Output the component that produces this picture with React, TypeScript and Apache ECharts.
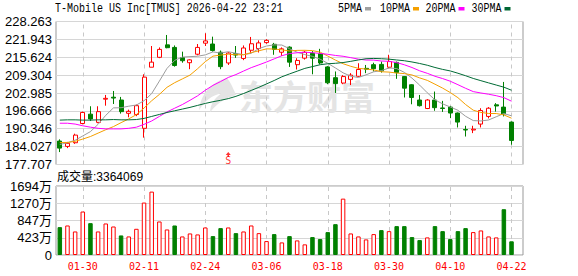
import React, { useEffect, useRef } from "react";
import * as echarts from "echarts";

const dates = ["01-27","01-28","01-29","01-30","02-02","02-03","02-04","02-05","02-06","02-09","02-10","02-11","02-12","02-13","02-17","02-18","02-19","02-20","02-23","02-24","02-25","02-26","02-27","03-02","03-03","03-04","03-05","03-06","03-09","03-10","03-11","03-12","03-13","03-16","03-17","03-18","03-19","03-20","03-23","03-24","03-25","03-26","03-27","03-30","03-31","04-01","04-02","04-06","04-07","04-08","04-09","04-10","04-13","04-14","04-15","04-16","04-17","04-20","04-21","04-22"];
const labelDates = ["01-30","02-11","02-24","03-06","03-18","03-30","04-10","04-22"];

const opens = [186.0,184.1,185.4,192.2,195.5,192.6,200.8,201.5,200.5,195.8,195.4,190.5,212.1,215.6,220.0,219.1,215.5,213.7,216.7,220.6,220.3,217.4,213.6,216.9,215.2,218.1,218.7,220.8,220.2,217.4,219.2,213.0,215.3,217.0,216.9,212.2,208.4,206.5,207.8,208.9,211.7,213.0,213.1,212.1,213.8,208.8,205.9,200.5,197.5,200.5,197.7,198.0,195.9,190.1,189.9,192.0,194.7,198.8,198.0,192.7];
const closes = [183.5,185.2,188.1,196.1,193.8,196.4,201.1,201.2,196.4,196.5,198.5,208.6,213.9,218.4,219.0,212.7,214.4,214.7,219.1,221.4,218.0,212.3,217.1,216.4,218.9,220.4,220.7,221.6,218.4,218.6,213.9,214.5,217.4,215.3,213.6,206.6,206.3,208.8,209.3,211.3,211.4,211.6,210.8,214.1,210.2,204.7,201.4,198.5,200.5,197.8,197.5,195.9,192.7,189.9,190.2,196.8,197.6,198.4,195.6,186.2];
const highs = [186.6,185.7,188.6,196.4,198.3,198.3,202.3,203.7,201.6,197.1,198.9,209.6,219.6,219.1,223.5,219.8,217.6,214.9,220.3,224.1,222.9,218.0,217.4,219.6,219.8,222.8,221.6,222.0,220.7,219.1,219.5,215.3,217.9,217.8,218.6,212.5,210.6,209.3,210.0,213.5,212.9,213.7,214.1,216.5,214.1,209.0,206.1,202.3,200.8,203.5,200.2,198.4,196.1,191.4,191.4,197.6,198.0,199.4,206.9,192.9];
const lows = [182.1,183.5,185.0,191.9,193.1,192.3,198.5,199.1,195.7,194.4,194.8,187.2,212.1,215.3,218.8,212.3,213.7,211.4,216.3,219.6,217.6,211.4,212.9,215.4,214.6,216.9,217.3,220.4,216.5,216.1,212.2,211.3,214.8,209.6,213.1,206.1,203.0,206.1,205.8,208.7,210.0,210.6,210.2,211.7,208.0,201.4,199.0,198.2,197.3,196.7,196.3,194.1,190.8,187.6,188.8,190.8,194.0,196.4,194.7,184.7];
// volume in 万 shares
const volumes = [684,725,578,1067,782,578,774,700,480,456,643,1287,1556,823,627,725,456,529,505,676,464,660,676,537,578,725,537,342,513,309,464,358,261,440,391,562,757,1384,529,456,383,513,611,586,709,709,440,366,432,709,586,391,586,660,562,603,456,432,1124,336];

const ma5 = [184.8,185.4,186.3,187.8,189.34,191.92,195.10,197.72,197.78,198.32,198.74,200.24,202.78,207.18,211.68,214.52,215.68,215.84,215.98,216.46,217.52,217.10,217.58,217.04,216.54,217.02,218.70,219.60,220.00,219.94,218.64,217.40,216.56,215.94,214.94,213.48,211.84,210.12,208.92,208.46,209.42,210.48,210.88,211.84,211.62,210.28,208.24,205.78,203.06,200.58,199.14,198.04,196.88,194.76,193.24,193.10,193.44,194.58,195.72,194.92];
const ma10 = [185.5,185.5,185.9,186.7,187.6,188.8,190.0,191.1,192.5,193.83,195.33,197.67,200.25,202.48,205.00,206.63,207.96,209.31,211.58,214.07,216.02,216.39,216.71,216.51,216.50,217.27,217.90,218.59,218.52,218.24,217.83,218.05,218.08,217.97,217.44,216.06,214.62,213.34,212.43,211.70,211.45,211.16,210.50,210.38,210.04,209.85,209.36,208.33,207.45,206.10,204.71,203.14,201.33,198.91,196.91,196.12,195.74,195.73,195.24,194.08];
const ma20 = [192.3,192.3,192.0,191.4,190.9,190.5,190.3,190.3,190.3,190.5,190.9,191.9,193.1,194.7,196.3,197.6,198.9,200.4,202.0,203.95,205.68,207.03,208.48,209.50,210.75,211.95,212.93,213.95,215.05,216.16,216.93,217.22,217.40,217.24,216.97,216.67,216.26,215.97,215.48,214.97,214.64,214.61,214.29,214.18,213.74,212.96,211.99,210.84,209.94,208.90,208.08,207.15,205.92,204.65,203.48,202.99,202.55,202.03,201.35,200.09];
const ma30 = [193.4,193.5,193.5,193.4,193.4,193.5,193.5,193.6,193.5,193.5,193.6,194.0,194.7,195.4,196.1,196.7,197.3,197.9,198.6,199.3,199.9,200.4,201.0,201.8,202.8,203.9,205.0,206.2,207.4,208.71,209.73,210.70,211.68,212.32,212.98,213.32,213.49,213.75,214.18,214.67,215.10,215.20,215.10,214.95,214.66,214.39,213.96,213.42,212.80,212.01,211.33,210.78,209.97,209.09,208.13,207.34,206.57,205.80,205.04,203.96];

const priceTicks = ["177.707","184.027","190.346","196.666","202.985","209.304","215.624","221.943","228.263"];
const volumeTicks = ["0","423万","847万","1270万","1694万"];
const eventMarks: [string, number, string][] = [["02-27", 181.25, "S"]];

const PRICE_MIN = 177.707;
const PRICE_MAX = 228.263;
const PRICE_STEP = (PRICE_MAX - PRICE_MIN) / 8;
const VOL_MAX = 1694;
const VOL_STEP = VOL_MAX / 4;

const RED = "#ff0000";
const GREEN = "#008000";
const MONO = '"Liberation Mono", "DejaVu Sans Mono", monospace';
const SANS = '"Liberation Sans", Arial, "Noto Sans CJK SC", sans-serif';

const LOGO_D = "M30 0 C14 4 2 16 0 34 C6 24 14 18 24 16 C16 22 12 28 12 36 C20 26 30 20 40 18 C36 10 34 4 30 0 Z";
let logoRegistered = false;
function ensureLogo() {
  if (logoRegistered) return;
  echarts.graphic.registerShape("logo", echarts.graphic.extendPath(LOGO_D, {}) as any);
  logoRegistered = true;
}

export default function App() {
  const ref = useRef<HTMLDivElement>(null);
  useEffect(() => {
    if (!ref.current) return;
    ensureLogo();
    const chart = echarts.init(ref.current, null, { renderer: "svg" });
    const cats = [...dates, ""];
    const kData = dates.map((_, i) => [opens[i], closes[i], lows[i], highs[i]]);
    const volData = volumes.map((v, i) => {
      const up = i > 0 && closes[i] >= closes[i - 1];
      return {
        value: v,
        itemStyle: up
          ? { color: "#ffffff", borderColor: RED, borderWidth: 1 }
          : { color: GREEN, borderColor: GREEN, borderWidth: 1 },
      };
    });
    const dashLines = labelDates.map((d) => ({ xAxis: d }));
    const markLineCfg = {
      z: 1,
      silent: true,
      symbol: ["none", "none"],
      label: { show: false },
      lineStyle: { color: "#c8c8c8", type: [4, 4], width: 1 },
      data: dashLines,
      animation: false,
    };
    const maLine = (name: string, data: number[], color: string) => ({
      name,
      type: "line",
      xAxisIndex: 0,
      yAxisIndex: 0,
      data,
      showSymbol: false,
      symbol: "none",
      z: 3,
      lineStyle: { color, width: 1 },
      itemStyle: { color },
      silent: true,
    });

    const legendItems = [
      { t: "5PMA", x: 338, c: "#a0a0a0" },
      { t: "10PMA", x: 380, c: "#f5a000" },
      { t: "20PMA", x: 425.5, c: "#ff00ff" },
      { t: "30PMA", x: 471.5, c: "#006633" },
    ];
    const graphics: any[] = [
      {
        type: "text",
        x: 55,
        y: 9,
        scaleX: 0.833,
        z: 10,
        style: { text: "T-Mobile US Inc[TMUS] 2026-04-22 23:21", fill: "#000", font: `12px ${MONO}`, verticalAlign: "middle" },
      },
      {
        type: "text",
        x: 57,
        y: 176.5,
        z: 10,
        style: { text: "成交量:3364069", fill: "#000", font: `12px ${SANS}`, verticalAlign: "middle" },
      },
      {
        type: "logo",
        x: 199,
        y: 78,
        scaleX: 0.93,
        scaleY: 0.95,
        z: 1,
        style: { fill: "#e4e4e4" },
      },
      {
        type: "text",
        x: 239,
        y: 95,
        z: 1,
        style: { text: "东方财富", fill: "#e4e4e4", font: `bold 34px "Noto Sans CJK SC", sans-serif`, verticalAlign: "middle" },
      },
    ];
    legendItems.forEach((it) => {
      const w = it.t.length * 6;
      graphics.push({
        type: "text",
        x: it.x,
        y: 9,
        scaleX: 0.833,
        z: 10,
        style: { text: it.t, fill: "#000", font: `12px ${MONO}`, verticalAlign: "middle" },
      });
      graphics.push({
        type: "rect",
        z: 10,
        shape: { x: it.x + w + 3, y: 7, width: 6, height: 3.5 },
        style: { fill: it.c },
      });
    });

    const option: any = {
      animation: false,
      backgroundColor: "#ffffff",
      grid: [
        { left: 56, top: 21.5, width: 467, height: 143, show: true, borderColor: "#999999", borderWidth: 1, backgroundColor: "transparent", containLabel: false, outerBoundsMode: "none" },
        { left: 56, top: 186, width: 467, height: 69, show: true, borderColor: "#999999", borderWidth: 1, backgroundColor: "transparent", containLabel: false, outerBoundsMode: "none" },
      ],
      xAxis: [
        {
          type: "category", gridIndex: 0, data: cats, boundaryGap: true,
          axisLine: { show: false }, axisTick: { show: false }, axisLabel: { show: false }, splitLine: { show: false },
        },
        {
          type: "category", gridIndex: 1, data: cats, boundaryGap: true,
          axisLine: { show: false }, axisTick: { show: false }, splitLine: { show: false },
          axisLabel: {
            show: true,
            interval: (idx: number) => labelDates.indexOf(cats[idx]) >= 0,
            color: RED,
            fontFamily: '"DejaVu Sans Mono", monospace',
            fontSize: 10,
            margin: 6,
            hideOverlap: false,
          },
        },
      ],
      yAxis: [
        {
          type: "value", gridIndex: 0, min: PRICE_MIN, max: PRICE_MAX, interval: PRICE_STEP, scale: true,
          axisLine: { show: false }, axisTick: { show: false },
          axisLabel: {
            color: "#000", fontFamily: SANS, fontSize: 13, margin: 4,
            formatter: (v: number) => priceTicks[Math.round((v - PRICE_MIN) / PRICE_STEP)] ?? "",
          },
          splitLine: { show: true, lineStyle: { color: "#d6d6d6", width: 1 } },
        },
        {
          type: "value", gridIndex: 1, min: 0, max: VOL_MAX, interval: VOL_STEP,
          axisLine: { show: false }, axisTick: { show: false },
          axisLabel: {
            color: "#000", fontFamily: SANS, fontSize: 13, margin: 4,
            formatter: (v: number) => volumeTicks[Math.round(v / VOL_STEP)] ?? "",
          },
          splitLine: { show: true, lineStyle: { color: "#d6d6d6", width: 1 } },
        },
      ],
      graphic: graphics,
      series: [
        { type: "line", xAxisIndex: 0, yAxisIndex: 0, data: [], z: 1, silent: true, markLine: markLineCfg },
        { type: "line", xAxisIndex: 1, yAxisIndex: 1, data: [], z: 1, silent: true, markLine: markLineCfg },
        {
          type: "candlestick",
          xAxisIndex: 0,
          yAxisIndex: 0,
          data: kData,
          barWidth: 4.5,
          z: 2,
          itemStyle: { color: "#ffffff", color0: GREEN, borderColor: RED, borderColor0: GREEN, borderWidth: 1 },
        },
        maLine("5PMA", ma5, "#9c9c9c"),
        maLine("10PMA", ma10, "#f5a000"),
        maLine("20PMA", ma20, "#ff00ff"),
        maLine("30PMA", ma30, "#006b35"),
        {
          type: "scatter",
          xAxisIndex: 0,
          yAxisIndex: 0,
          z: 4,
          data: eventMarks.map((m) => [m[0], m[1]]),
          symbol: "path://M5,0 L10,6 L6.5,6 L6.5,10 L3.5,10 L3.5,6 L0,6 Z",
          symbolSize: [5, 5],
          itemStyle: { color: RED },
          label: {
            show: true,
            position: "bottom",
            distance: -1,
            formatter: (p: any) => eventMarks[p.dataIndex][2],
            color: RED,
            fontFamily: '"DejaVu Sans Mono", monospace',
            fontSize: 10,
          },
          silent: true,
        },
        {
          type: "bar",
          xAxisIndex: 1,
          yAxisIndex: 1,
          data: volData,
          barWidth: 4.5,
          z: 2,
        },
      ],
    };
    chart.setOption(option);
    return () => chart.dispose();
  }, []);
  return (
    <div
      ref={ref}
      style={{ position: "fixed", left: 0, top: 0, width: 578, height: 276, background: "#fff" }}
    />
  );
}
